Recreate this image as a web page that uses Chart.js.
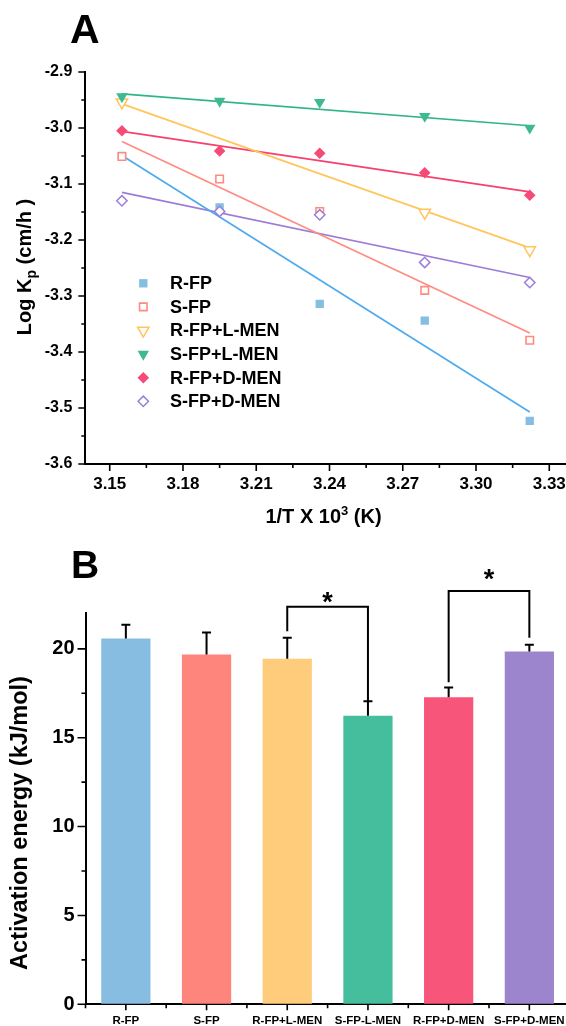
<!DOCTYPE html>
<html>
<head>
<meta charset="utf-8">
<script src="https://cdn.jsdelivr.net/npm/chart.js@4.4.1/dist/chart.umd.min.js"></script>
<style>
html,body{margin:0;padding:0;background:#fff;overflow:hidden;width:566px;height:1026px;}
#wrapA{position:absolute;left:0;top:0;width:600px;height:540px;}
#wrapB{position:absolute;left:0;top:540px;width:600px;height:500px;}
canvas{display:block;}
</style>
</head>
<body>
<div id="wrapA"><canvas id="chartA" width="600" height="540"></canvas></div>
<div id="wrapB"><canvas id="chartB" width="600" height="500"></canvas></div>
<script>
const FONT = "'Liberation Sans', Arial, Helvetica, sans-serif";

// ---------- Panel A data ----------
const invT = [3.155, 3.195, 3.236, 3.279, 3.322];
const logKp_RFP   = [-3.050, -3.142, -3.314, -3.344, -3.523];
const logKp_SFP   = [-3.051, -3.091, -3.149, -3.290, -3.379];
const logKp_RFP_L = [-2.954, null, null, -3.151, -3.218];   // 2nd/3rd markers not visible in the picture
const logKp_SFP_L = [-2.944, -2.952, -2.954, -2.979, -3.000];
const logKp_RFP_D = [-3.005, -3.041, -3.045, -3.080, -3.120];
const logKp_SFP_D = [-3.130, -3.149, -3.155, -3.240, -3.276];
// fitted lines (endpoints)
const fitX       = [3.155, 3.322];
const fit_RFP    = [-3.049, -3.507];
const fit_SFP    = [-3.024, -3.366];
const fit_RFP_L  = [-2.957, -3.214];
const fit_SFP_L  = [-2.939, -2.996];
const fit_RFP_D  = [-3.006, -3.114];
const fit_SFP_D  = [-3.115, -3.267];
const xMajorTicksA = [3.15, 3.18, 3.21, 3.24, 3.27, 3.30, 3.33];
const yMajorTicksA = [-3.6, -3.5, -3.4, -3.3, -3.2, -3.1, -3.0, -2.9];

// ---------- Panel B data ----------
const barCategories = ['R-FP', 'S-FP', 'R-FP+L-MEN', 'S-FP-L-MEN', 'R-FP+D-MEN', 'S-FP+D-MEN'];
const activationEnergy = [20.58, 19.68, 19.44, 16.24, 17.27, 19.85];
const activationError  = [0.77, 1.24, 1.18, 0.81, 0.55, 0.38];
const yMajorTicksB = [0, 5, 10, 15, 20];
const bracketFrom = [2, 4];
const bracketTo   = [3, 5];
const bracketTop  = [22.37, 23.25];
const bracketLeftEnd  = [20.99, 18.12];
const bracketRightEnd = [17.05, 20.62];
const starLevel = [22.9, 24.2];
const starText = ['*', '*'];

function isMajor(list, v) { return list.some(m => Math.abs(m - v) < 1e-6); }
function pts(xs, ys) { return xs.map((x, i) => ({x: x, y: ys[i]})); }

Chart.defaults.font.family = FONT;
Chart.defaults.font.weight = 'bold';
Chart.defaults.color = '#000';

// ---------- Panel A ----------
const legendX = 143.3, legendTextX = 170, legendY0 = 283.3, legendDY = 23.6;

const tickMarksA = {
  id: 'tickMarksA',
  afterDraw(chart) {
    const {ctx, scales: {x, y}} = chart;
    ctx.save();
    ctx.strokeStyle = '#000';
    ctx.lineWidth = 1.6;
    ctx.beginPath();
    x.ticks.forEach(t => {
      const px = x.getPixelForValue(t.value);
      const len = isMajor(xMajorTicksA, t.value) ? 7 : 4;
      ctx.moveTo(px, y.bottom); ctx.lineTo(px, y.bottom + len);
    });
    y.ticks.forEach(t => {
      const py = y.getPixelForValue(t.value);
      const len = isMajor(yMajorTicksA, t.value) ? 7 : 4;
      ctx.moveTo(x.left, py); ctx.lineTo(x.left - len, py);
    });
    ctx.stroke();
    ctx.restore();
  }
};

const legendA = {
  id: 'legendA',
  afterDraw(chart) {
    const ctx = chart.ctx;
    const sets = chart.data.datasets.filter(d => d.legendRow !== undefined);
    sets.forEach(d => {
      const yy = legendY0 + d.legendRow * legendDY;
      ctx.save();
      ctx.fillStyle = d.backgroundColor;
      ctx.strokeStyle = d.borderColor;
      ctx.lineWidth = d.borderWidth;
      Chart.helpers.drawPoint(ctx, {pointStyle: d.pointStyle, rotation: d.pointRotation || 0, radius: d.pointRadius, borderWidth: d.borderWidth}, legendX, yy);
      ctx.restore();
      ctx.save();
      ctx.fillStyle = '#000';
      ctx.font = 'bold 18px ' + FONT;
      ctx.textBaseline = 'middle';
      ctx.textAlign = 'left';
      ctx.fillText(d.label, legendTextX, yy + 1);
      ctx.restore();
    });
  }
};

const titlesA = {
  id: 'titlesA',
  afterDraw(chart) {
    const ctx = chart.ctx;
    ctx.save();
    ctx.fillStyle = '#000';
    ctx.textBaseline = 'alphabetic';
    ctx.textAlign = 'left';
    // panel letter
    ctx.font = 'bold 41px ' + FONT;
    ctx.fillText('A', 70, 43);
    // x title
    const f1 = 'bold 20px ' + FONT, fs = 'bold 13px ' + FONT;
    ctx.font = f1; const w1 = ctx.measureText('1/T X 10').width;
    ctx.font = fs; const w2 = ctx.measureText('3').width;
    ctx.font = f1; const w3 = ctx.measureText(' (K)').width;
    let sx = 323.5 - (w1 + w2 + w3) / 2;
    const by = 523;
    ctx.font = f1; ctx.fillText('1/T X 10', sx, by); sx += w1;
    ctx.font = fs; ctx.fillText('3', sx, by - 8); sx += w2;
    ctx.font = f1; ctx.fillText(' (K)', sx, by);
    // y title
    ctx.translate(31, 267);
    ctx.rotate(-Math.PI / 2);
    const g1 = 'bold 20px ' + FONT, gs = 'bold 14px ' + FONT;
    ctx.font = g1; const a1 = ctx.measureText('Log K').width;
    ctx.font = gs; const a2 = ctx.measureText('p').width;
    ctx.font = g1; const a3 = ctx.measureText(' (cm/h )').width;
    let tx = -(a1 + a2 + a3) / 2;
    ctx.font = g1; ctx.fillText('Log K', tx, 0); tx += a1;
    ctx.font = gs; ctx.fillText('p', tx, 5); tx += a2;
    ctx.font = g1; ctx.fillText(' (cm/h )', tx, 0);
    ctx.restore();
  }
};

function scatterSet(label, ys, style, order, row) {
  return Object.assign({label: label, data: pts(invT, ys), showLine: false, order: order, legendRow: row}, style);
}
function fitSet(label, ys, color) {
  return {label: label, data: pts(fitX, ys), showLine: true, pointRadius: 0, borderColor: color, borderWidth: 1.7, fill: false, order: 20};
}

new Chart(document.getElementById('chartA'), {
  type: 'scatter',
  data: {
    datasets: [
      fitSet('fit R-FP', fit_RFP, '#4FAAEE'),
      fitSet('fit S-FP', fit_SFP, '#FF8C80'),
      fitSet('fit R-FP+L-MEN', fit_RFP_L, '#FFC55E'),
      fitSet('fit S-FP+L-MEN', fit_SFP_L, '#2FB589'),
      fitSet('fit R-FP+D-MEN', fit_RFP_D, '#F7406C'),
      fitSet('fit S-FP+D-MEN', fit_SFP_D, '#9C7CD8'),
      scatterSet('R-FP', logKp_RFP, {pointStyle: 'rect', pointRadius: 5.9, backgroundColor: '#86BEE2', borderColor: '#86BEE2', borderWidth: 0}, 6, 0),
      scatterSet('S-FP', logKp_SFP, {pointStyle: 'rect', pointRadius: 5.3, backgroundColor: '#ffffff', borderColor: '#FF8B80', borderWidth: 1.6}, 4, 1),
      scatterSet('R-FP+L-MEN', logKp_RFP_L, {pointStyle: 'triangle', pointRotation: 180, pointRadius: 6.6, backgroundColor: '#ffffff', borderColor: '#FFC45E', borderWidth: 1.5}, 5, 2),
      scatterSet('S-FP+L-MEN', logKp_SFP_L, {pointStyle: 'triangle', pointRotation: 180, pointRadius: 6.6, backgroundColor: '#3DBA92', borderColor: '#3DBA92', borderWidth: 0}, 3, 3),
      scatterSet('R-FP+D-MEN', logKp_RFP_D, {pointStyle: 'rectRot', pointRadius: 5.8, backgroundColor: '#F64B76', borderColor: '#F64B76', borderWidth: 0}, 2, 4),
      scatterSet('S-FP+D-MEN', logKp_SFP_D, {pointStyle: 'rectRot', pointRadius: 5.2, backgroundColor: '#ffffff', borderColor: '#9C7FD9', borderWidth: 1.5}, 1, 5)
    ]
  },
  options: {
    responsive: false,
    animation: false,
    events: [],
    layout: {padding: {left: 0, top: 72, right: 26.3, bottom: 0}},
    plugins: {legend: {display: false}, tooltip: {enabled: false}},
    scales: {
      x: {
        type: 'linear', position: 'bottom', min: 3.14, max: 3.34,
        afterFit(s) { s.height = 76; },
        grid: {display: true, drawOnChartArea: false, drawTicks: true, tickLength: 7, color: 'rgba(0,0,0,0)'},
        border: {display: true, color: '#000', width: 2},
        ticks: {stepSize: 0.015, includeBounds: false, autoSkip: false, maxRotation: 0, padding: 3,
          font: {size: 17, weight: 'bold'}, color: '#000',
          callback: v => isMajor(xMajorTicksA, v) ? v.toFixed(2) : ''}
      },
      y: {
        type: 'linear', min: -3.6, max: -2.9,
        afterFit(s) { s.width = 85.3; },
        grid: {display: true, drawOnChartArea: false, drawTicks: true, tickLength: 7, color: 'rgba(0,0,0,0)'},
        border: {display: true, color: '#000', width: 2},
        ticks: {stepSize: 0.05, includeBounds: false, autoSkip: false, padding: 6,
          font: {size: 16, weight: 'bold'}, color: '#000',
          callback: v => isMajor(yMajorTicksA, v) ? v.toFixed(1) : ''}
      }
    }
  },
  plugins: [tickMarksA, legendA, titlesA]
});

// ---------- Panel B ----------
const decorB = {
  id: 'decorB',
  afterDraw(chart) {
    const {ctx, scales: {x, y}} = chart;
    const meta = chart.getDatasetMeta(0);
    ctx.save();
    // tick marks
    ctx.strokeStyle = '#000';
    ctx.lineWidth = 1.6;
    ctx.beginPath();
    for (let i = 0; i < barCategories.length; i++) {
      const px = x.getPixelForValue(i);
      ctx.moveTo(px, y.bottom); ctx.lineTo(px, y.bottom + 6);
    }
    for (let i = 0; i <= barCategories.length; i++) {
      const px = x.getPixelForValue(i - 0.5);
      ctx.moveTo(px, y.bottom); ctx.lineTo(px, y.bottom + 4);
    }
    y.ticks.forEach(t => {
      const py = y.getPixelForValue(t.value);
      const len = isMajor(yMajorTicksB, t.value) ? 8 : 4;
      ctx.moveTo(x.left, py); ctx.lineTo(x.left - len, py);
    });
    ctx.stroke();
    // error bars
    ctx.lineWidth = 2;
    ctx.beginPath();
    activationEnergy.forEach((v, i) => {
      const px = meta.data[i].x;
      const pTop = y.getPixelForValue(v + activationError[i]);
      const pBase = y.getPixelForValue(v);
      ctx.moveTo(px, pBase); ctx.lineTo(px, pTop);
      ctx.moveTo(px - 4.5, pTop); ctx.lineTo(px + 4.5, pTop);
    });
    ctx.stroke();
    // significance brackets
    ctx.lineWidth = 2;
    ctx.beginPath();
    bracketFrom.forEach((f, k) => {
      const xl = x.getPixelForValue(f), xr = x.getPixelForValue(bracketTo[k]);
      const yt = y.getPixelForValue(bracketTop[k]);
      ctx.moveTo(xl, y.getPixelForValue(bracketLeftEnd[k]));
      ctx.lineTo(xl, yt); ctx.lineTo(xr, yt);
      ctx.lineTo(xr, y.getPixelForValue(bracketRightEnd[k]));
    });
    ctx.stroke();
    ctx.fillStyle = '#000';
    ctx.font = 'bold 27px ' + FONT;
    ctx.textAlign = 'center';
    ctx.textBaseline = 'middle';
    bracketFrom.forEach((f, k) => {
      const xc = (x.getPixelForValue(f) + x.getPixelForValue(bracketTo[k])) / 2;
      ctx.fillText(starText[k], xc, y.getPixelForValue(starLevel[k]) + 6);
    });
    // panel letter
    ctx.textAlign = 'left';
    ctx.textBaseline = 'alphabetic';
    ctx.font = 'bold 39px ' + FONT;
    ctx.fillText('B', 71, 38);
    // y title
    ctx.translate(27, 283);
    ctx.rotate(-Math.PI / 2);
    ctx.font = 'bold 23.5px ' + FONT;
    ctx.textAlign = 'center';
    ctx.fillText('Activation energy (kJ/mol)', 0, 0);
    ctx.restore();
  }
};

new Chart(document.getElementById('chartB'), {
  type: 'bar',
  data: {
    labels: barCategories,
    datasets: [{
      data: activationEnergy,
      backgroundColor: ['#87BDE1', '#FE857B', '#FFCC7C', '#45BE9D', '#F7557A', '#9C85CD'],
      borderWidth: 0,
      barPercentage: 0.61,
      categoryPercentage: 1
    }]
  },
  options: {
    responsive: false,
    animation: false,
    events: [],
    layout: {padding: {left: 0, top: 73.3, right: 30.3, bottom: 0}},
    plugins: {legend: {display: false}, tooltip: {enabled: false}},
    scales: {
      x: {
        type: 'category',
        afterFit(s) { s.height = 35.7; },
        grid: {display: true, drawOnChartArea: false, drawTicks: true, tickLength: 6, color: 'rgba(0,0,0,0)'},
        border: {display: true, color: '#000', width: 2},
        ticks: {autoSkip: false, maxRotation: 0, padding: 4, font: {size: 11.5, weight: 'bold'}, color: '#000'}
      },
      y: {
        type: 'linear', min: 0, max: 22,
        afterFit(s) { s.width = 85.5; },
        grid: {display: true, drawOnChartArea: false, drawTicks: true, tickLength: 8, color: 'rgba(0,0,0,0)'},
        border: {display: true, color: '#000', width: 2},
        ticks: {stepSize: 2.5, includeBounds: false, autoSkip: false, padding: 3,
          font: {size: 20, weight: 'bold'}, color: '#000',
          callback: v => isMajor(yMajorTicksB, v) ? String(v) : ''}
      }
    }
  },
  plugins: [decorB]
});
</script>
</body>
</html>
